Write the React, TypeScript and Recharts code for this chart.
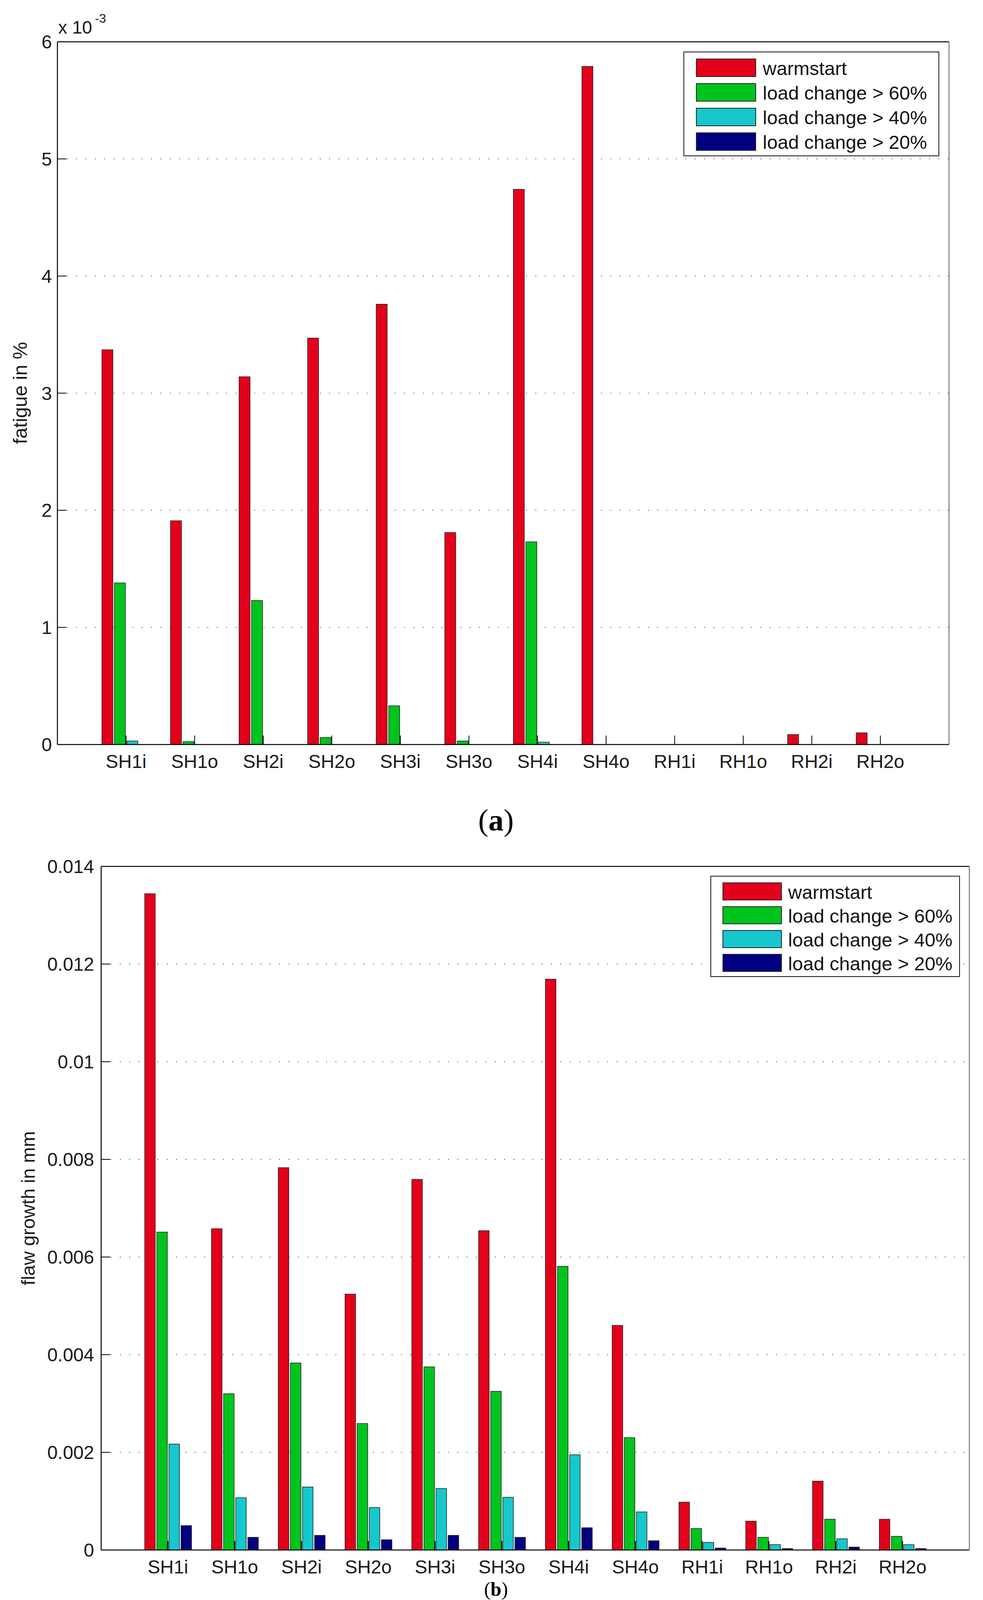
import React from 'react';
import { BarChart, Bar, XAxis, YAxis, CartesianGrid, Legend } from 'recharts';

const FONT = '"Liberation Sans", Arial, Helvetica, sans-serif';
const SERIF = '"Liberation Serif", "Times New Roman", serif';

const categories = ['SH1i', 'SH1o', 'SH2i', 'SH2o', 'SH3i', 'SH3o', 'SH4i', 'SH4o', 'RH1i', 'RH1o', 'RH2i', 'RH2o'];
const seriesNames = ['warmstart', 'load change > 60%', 'load change > 40%', 'load change > 20%'];
const seriesColors = ['#e3001b', '#00c41e', '#16c8cb', '#000080'];

// (a) fatigue in %, values in units of 10^-3
const fatigueWarmstart = [3.37, 1.91, 3.14, 3.47, 3.76, 1.81, 4.74, 5.79, 0, 0, 0.085, 0.1];
const fatigue60 = [1.38, 0.025, 1.23, 0.06, 0.33, 0.03, 1.73, 0, 0, 0, 0, 0];
const fatigue40 = [0.03, 0, 0, 0, 0, 0, 0.02, 0, 0, 0, 0, 0];
const fatigue20 = [0, 0, 0, 0, 0, 0, 0, 0, 0, 0, 0, 0];
const fatigueTicks = [0, 1, 2, 3, 4, 5, 6];
const fatigueTickLabels = ['0', '1', '2', '3', '4', '5', '6'];

// (b) flaw growth in mm
const flawWarmstart = [0.01344, 0.00658, 0.00783, 0.00524, 0.00759, 0.00654, 0.01169, 0.0046, 0.00098, 0.00059, 0.00141, 0.00063];
const flaw60 = [0.00651, 0.0032, 0.00383, 0.00259, 0.00375, 0.00325, 0.00581, 0.0023, 0.00044, 0.00026, 0.00063, 0.00028];
const flaw40 = [0.00217, 0.00107, 0.00129, 0.00087, 0.00126, 0.00108, 0.00195, 0.00078, 0.000156, 0.00011, 0.00023, 0.00011];
const flaw20 = [0.0005, 0.00026, 0.0003, 0.00021, 0.0003, 0.00026, 0.000456, 0.00019, 0.00004, 0.00003, 0.00006, 0.00003];
const flawTicks = [0, 0.002, 0.004, 0.006, 0.008, 0.01, 0.012, 0.014];
const flawTickLabels = ['0', '0.002', '0.004', '0.006', '0.008', '0.01', '0.012', '0.014'];

const toRows = (series: number[][]) =>
  categories.map((name, i) => {
    const row: any = { name };
    series.forEach((s, k) => (row['s' + k] = s[i]));
    return row;
  });

const fatigueRows = toRows([fatigueWarmstart, fatigue60, fatigue40, fatigue20]);
const flawRows = toRows([flawWarmstart, flaw60, flaw40, flaw20]);

type LegendGeom = {
  left: number; top: number; w: number; h: number;
  swX: number; swW: number; swH: number; row0: number; rowH: number; textX: number; fontSize: number;
};

// legend box drawn like the MATLAB one, in series order
const makeLegend = (g: LegendGeom) => (props: any) => {
  const items = [...(props.payload || [])].sort(
    (a: any, b: any) => seriesNames.indexOf(a.value) - seriesNames.indexOf(b.value)
  );
  return (
    <div style={{ position: 'relative', width: g.w, height: g.h, boxSizing: 'border-box', border: '2.5px solid #111', background: '#fff', fontFamily: FONT }}>
      {items.map((e: any, i: number) => {
        const cy = g.row0 + i * g.rowH;
        return (
          <React.Fragment key={i}>
            <div style={{ position: 'absolute', left: g.swX, top: cy - g.swH / 2, width: g.swW, height: g.swH, boxSizing: 'border-box', border: '2px solid #222', background: e.payload?.fill ?? e.color }} />
            <span style={{ position: 'absolute', left: g.textX, top: cy + 2, transform: 'translateY(-50%)', fontSize: g.fontSize, lineHeight: 1, whiteSpace: 'nowrap', color: '#111' }}>{e.value}</span>
          </React.Fragment>
        );
      })}
    </div>
  );
};

type PanelProps = {
  rows: any[]; ticks: number[]; tickLabels: string[]; height: number;
  margin: { top: number; right: number; bottom: number; left: number };
  yWidth: number; xPad: number; labelGap: number; legend: LegendGeom;
};

function Panel({ rows, ticks, tickLabels, height, margin, yWidth, xPad, labelGap, legend }: PanelProps) {
  const domain = [ticks[0], ticks[ticks.length - 1]];
  const tickLen = -23;
  const fmt = (v: number) => tickLabels[ticks.indexOf(v)] ?? String(v);
  return (
    <BarChart width={2517} height={height} data={rows} margin={margin} barCategoryGap={26} barGap={4} style={{ fontFamily: FONT }}>
      <CartesianGrid vertical={false} stroke="#3a3a3a" strokeWidth={2} strokeDasharray="2 22" />
      <XAxis dataKey="name" interval={0} padding={{ left: xPad, right: xPad }} height={80}
        tickSize={tickLen} tickMargin={49} axisLine={{ stroke: '#000', strokeWidth: 2.5 }}
        tickLine={{ stroke: '#000', strokeWidth: 2 }} tick={{ fill: '#1a1a1a', fontSize: 48, fontFamily: FONT }} />
      <XAxis xAxisId="top" orientation="top" dataKey="name" interval={0} padding={{ left: xPad, right: xPad }} height={1}
        tickSize={tickLen} tick={false} axisLine={{ stroke: '#000', strokeWidth: 2.5 }} tickLine={{ stroke: '#000', strokeWidth: 2 }} />
      <YAxis type="number" domain={domain} ticks={ticks} interval={0} width={yWidth} tickFormatter={fmt}
        tickSize={tickLen} tickMargin={-tickLen + labelGap} axisLine={{ stroke: '#000', strokeWidth: 2.5 }}
        tickLine={{ stroke: '#000', strokeWidth: 2 }} tick={{ fill: '#1a1a1a', fontSize: 48, fontFamily: FONT }} />
      <YAxis yAxisId="right" orientation="right" type="number" domain={domain} ticks={ticks} interval={0} width={1}
        tickSize={tickLen} tick={false} axisLine={{ stroke: '#777', strokeWidth: 2.5 }} tickLine={{ stroke: '#333', strokeWidth: 2 }} />
      {seriesNames.map((n, k) => (
        <Bar key={n} dataKey={'s' + k} name={n} fill={seriesColors[k]} stroke="#1e1e1e" strokeWidth={1.5} isAnimationActive={false} />
      ))}
      <Legend layout="vertical" align="center" verticalAlign="middle"
        wrapperStyle={{ position: 'absolute', left: legend.left, top: legend.top, width: legend.w, height: legend.h }}
        content={makeLegend(legend)} />
    </BarChart>
  );
}

export default function App() {
  return (
    <div style={{ position: 'absolute', left: 0, top: 0, width: 2517, height: 4211, background: '#fff', overflow: 'hidden' }}>
      <div style={{ position: 'absolute', left: 0, top: 0 }}>
        <Panel rows={fatigueRows} ticks={fatigueTicks} tickLabels={fatigueTickLabels} height={2150}
          margin={{ top: 106, right: 86, bottom: 164, left: 47 }} yWidth={100} xPad={88} labelGap={14}
          legend={{ left: 1750, top: 132, w: 655, h: 268, swX: 30, swW: 154, swH: 47, row0: 39, rowH: 63, textX: 201, fontSize: 49 }} />
      </div>
      <div style={{ position: 'absolute', left: 0, top: 2160 }}>
        <Panel rows={flawRows} ticks={flawTicks} tickLabels={flawTickLabels} height={2051}
          margin={{ top: 57, right: 34, bottom: 163, left: 109 }} yWidth={150} xPad={85.5} labelGap={18}
          legend={{ left: 1819, top: 82, w: 639, h: 259, swX: 29, swW: 152, swH: 46, row0: 38, rowH: 61, textX: 197, fontSize: 49 }} />
      </div>
      <svg width={2517} height={4211} style={{ position: 'absolute', left: 0, top: 0, pointerEvents: 'none' }}>
        <text x={149} y={86} fontSize={46} fontFamily={FONT} fill="#1a1a1a">x 10</text>
        <text x={243} y={58} fontSize={32} fontFamily={FONT} fill="#1a1a1a">-3</text>
        <text transform="translate(52 1006) rotate(-90)" textAnchor="middle" dominantBaseline="central" fontSize={50} fontFamily={FONT} fill="#1a1a1a">fatigue in %</text>
        <text transform="translate(72 3093) rotate(-90)" textAnchor="middle" dominantBaseline="central" fontSize={49} fontFamily={FONT} fill="#1a1a1a">flaw growth in mm</text>
        <text x={1270} y={2126} textAnchor="middle" fontSize={78} fontFamily={SERIF} fill="#000">(<tspan fontWeight="bold">a</tspan>)</text>
        <text x={1270} y={4085} textAnchor="middle" fontSize={50} fontFamily={SERIF} fill="#000">(<tspan fontWeight="bold">b</tspan>)</text>
      </svg>
    </div>
  );
}
